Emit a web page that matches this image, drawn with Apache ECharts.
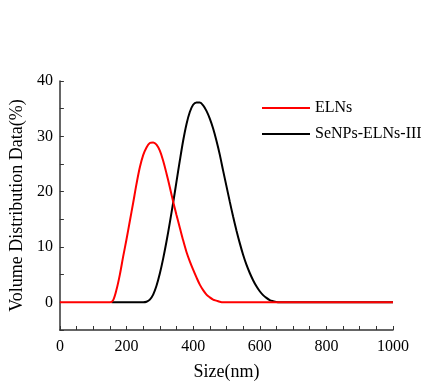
<!DOCTYPE html>
<html>
<head>
<meta charset="utf-8">
<script src="https://cdn.jsdelivr.net/npm/echarts@6/dist/echarts.min.js"></script>
<style>html,body{margin:0;padding:0;background:#fff}#c{width:438px;height:390px}</style>
</head>
<body>
<div id="c"></div>
<script>
var seriesNames = ['ELNs', 'SeNPs-ELNs-III'];
var elnsSize = [0, 140, 150, 160, 170, 180, 190, 200, 210, 220, 230, 240, 250, 260, 270, 280, 290, 300, 310, 320, 330, 340, 350, 360, 370, 380, 390, 400, 410, 420, 430, 440, 450, 460, 470, 480, 490, 500, 1000];
var elnsValue = [0, 0, 0, 0.4, 2.3, 5.0, 8.3, 11.4, 14.7, 18.0, 21.4, 24.4, 26.6, 28.0, 28.8, 28.9, 28.5, 27.4, 25.6, 23.3, 20.8, 18.2, 15.8, 13.5, 11.2, 9.1, 7.4, 5.9, 4.5, 3.2, 2.2, 1.4, 0.9, 0.5, 0.3, 0.1, 0, 0, 0];
var senpsSize = [155, 240, 250, 260, 270, 280, 290, 300, 310, 320, 330, 340, 350, 360, 370, 380, 390, 400, 410, 420, 430, 440, 450, 460, 470, 480, 490, 500, 510, 520, 530, 540, 550, 560, 570, 580, 590, 600, 610, 620, 630, 640, 650, 660, 670, 1000];
var senpsValue = [0, 0, 0, 0.1, 0.5, 1.4, 3.0, 5.2, 7.9, 11.0, 14.4, 18.0, 21.8, 25.6, 29.2, 32.2, 34.4, 35.7, 36.1, 36.1, 35.6, 34.6, 33.2, 31.4, 29.2, 26.7, 23.8, 21.0, 18.2, 15.5, 13.0, 10.7, 8.6, 6.8, 5.3, 4.0, 2.9, 2.0, 1.3, 0.8, 0.4, 0.2, 0.05, 0, 0, 0];
var xTickLabels = [0, 200, 400, 600, 800, 1000];
var yTickLabels = [0, 10, 20, 30, 40];

function pairs(xs, ys) { return xs.map(function (x, i) { return [x, ys[i]]; }); }

var font = '"Liberation Serif", "Times New Roman", serif';
var chart = echarts.init(document.getElementById('c'), null, {renderer: 'canvas'});
chart.setOption({
  backgroundColor: '#ffffff',
  animation: false,
  grid: {left: 59, right: 45, top: 81, bottom: 60},
  legend: {
    data: seriesNames,
    left: 257, top: 95, orient: 'vertical',
    icon: 'rect', itemWidth: 48, itemHeight: 2, itemGap: 10,
    textStyle: {fontFamily: font, fontSize: 16, lineHeight: 16, color: '#000'}
  },
  xAxis: {
    type: 'value', min: 0, max: 1000, interval: 50,
    name: 'Size(nm)', nameLocation: 'middle', nameGap: 33,
    nameTextStyle: {fontFamily: font, fontSize: 18, color: '#000'},
    axisLine: {show: true, onZero: false, lineStyle: {color: '#333', width: 1.5}},
    axisTick: {show: true, inside: true, length: 4, lineStyle: {color: '#333'}},
    axisLabel: {
      fontFamily: font, fontSize: 16, color: '#000', margin: 9,
      formatter: function (v) { return xTickLabels.indexOf(v) >= 0 ? String(v) : ''; }
    },
    splitLine: {show: false}
  },
  yAxis: {
    type: 'value', min: -5, max: 40, interval: 5,
    name: 'Volume Distribution Data(%)', nameLocation: 'middle', nameGap: 32,
    nameTextStyle: {fontFamily: font, fontSize: 18, color: '#000'},
    axisLine: {show: true, onZero: false, lineStyle: {color: '#333', width: 1.5}},
    axisTick: {show: true, inside: true, length: 4, lineStyle: {color: '#333'}},
    axisLabel: {
      fontFamily: font, fontSize: 16, color: '#000', margin: 7,
      formatter: function (v) { return yTickLabels.indexOf(v) >= 0 ? String(v) : ''; }
    },
    splitLine: {show: false}
  },
  series: [
    {
      name: 'SeNPs-ELNs-III', type: 'line', smooth: 0.3, symbol: 'none', z: 2,
      lineStyle: {color: '#000000', width: 2}, itemStyle: {color: '#000000'},
      data: pairs(senpsSize, senpsValue)
    },
    {
      name: 'ELNs', type: 'line', smooth: 0.3, symbol: 'none', z: 3,
      lineStyle: {color: '#ff0000', width: 2}, itemStyle: {color: '#ff0000'},
      data: pairs(elnsSize, elnsValue)
    }
  ]
});
</script>
</body>
</html>
